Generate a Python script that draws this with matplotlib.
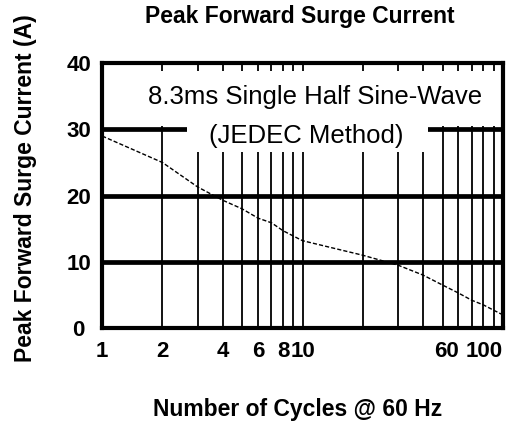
import matplotlib
matplotlib.use('Agg')
import matplotlib.pyplot as plt
from matplotlib.patches import Rectangle

# Data
cycles = [1, 2, 3, 4, 5, 6, 7, 8, 9, 10, 20, 30, 40, 50, 60, 70, 80, 90, 100]
surge_current = [29.0, 25.0, 21.3, 19.3, 18.0, 16.6, 15.9, 14.7, 13.9, 13.2,
                 11.0, 9.5, 8.0, 6.5, 5.3, 4.2, 3.5, 2.7, 2.0]
x_ticks = [1, 2, 4, 6, 8, 10, 60, 100]
y_ticks = [0, 10, 20, 30, 40]
grid_x = [1, 2, 3, 4, 5, 6, 7, 8, 9, 10, 20, 30, 40, 50, 60, 70, 80, 90, 100]
grid_y = [10, 20, 30]

bold_font = ['Liberation Sans', 'DejaVu Sans']

fig = plt.figure(figsize=(5.11, 4.30), dpi=100)
ax = fig.add_axes([0.2, 0.237, 0.784, 0.616])

ax.set_xscale('log')
ax.set_xlim(1, 100)
ax.set_ylim(0, 40)

# grid
for gx in grid_x:
    ax.axvline(gx, color='black', lw=1.3, zorder=1)
for gy in grid_y:
    ax.axhline(gy, color='black', lw=3.4, zorder=1)

# white areas behind the annotation
ax.add_patch(Rectangle((0, 0.762), 1, 0.21, transform=ax.transAxes,
                       facecolor='white', edgecolor='none', zorder=2))
ax.add_patch(Rectangle((0.212, 0.665), 0.601, 0.11, transform=ax.transAxes,
                       facecolor='white', edgecolor='none', zorder=2))

ax.plot(cycles, surge_current, color='black', lw=1.0, linestyle=(0, (3, 1.5)), zorder=4)

ax.text(0.531, 0.872, '8.3ms Single Half Sine-Wave', transform=ax.transAxes,
        ha='center', va='center', fontsize=18.5, family='Liberation Sans', zorder=5)
ax.text(0.509, 0.725, '(JEDEC Method)', transform=ax.transAxes,
        ha='center', va='center', fontsize=18.5, family='Liberation Sans', zorder=5)

ax.set_xticks(x_ticks)
ax.set_xticklabels([str(t) for t in x_ticks])
ax.xaxis.set_minor_locator(matplotlib.ticker.NullLocator())
ax.set_yticks(y_ticks)
ax.tick_params(axis='both', length=0, labelsize=16)
ax.tick_params(axis='y', pad=17)
ax.tick_params(axis='x', pad=9)
for lbl in ax.get_xticklabels() + ax.get_yticklabels():
    lbl.set_fontweight('bold')
    lbl.set_family(bold_font)
for lbl in ax.get_yticklabels():
    lbl.set_ha('center')
# keep the last two labels apart and inside the figure
ax.get_xticklabels()[-2].set_ha('right')
ax.get_xticklabels()[-1].set_ha('right')

for sp in ax.spines.values():
    sp.set_linewidth(3)
    sp.set_zorder(6)

fig.text(0.587, 0.962, 'Peak Forward Surge Current', ha='center', va='center',
         fontsize=16.5, fontweight='bold', family=bold_font)
fig.text(0.049, 0.563, 'Peak Forward Surge Current (A)', ha='center', va='center',
         rotation=90, fontsize=16.5, fontweight='bold', family=bold_font)
fig.text(0.583, 0.047, 'Number of Cycles @ 60 Hz', ha='center', va='center',
         fontsize=16.5, fontweight='bold', family=bold_font)

fig.savefig('out.png', dpi=100)
